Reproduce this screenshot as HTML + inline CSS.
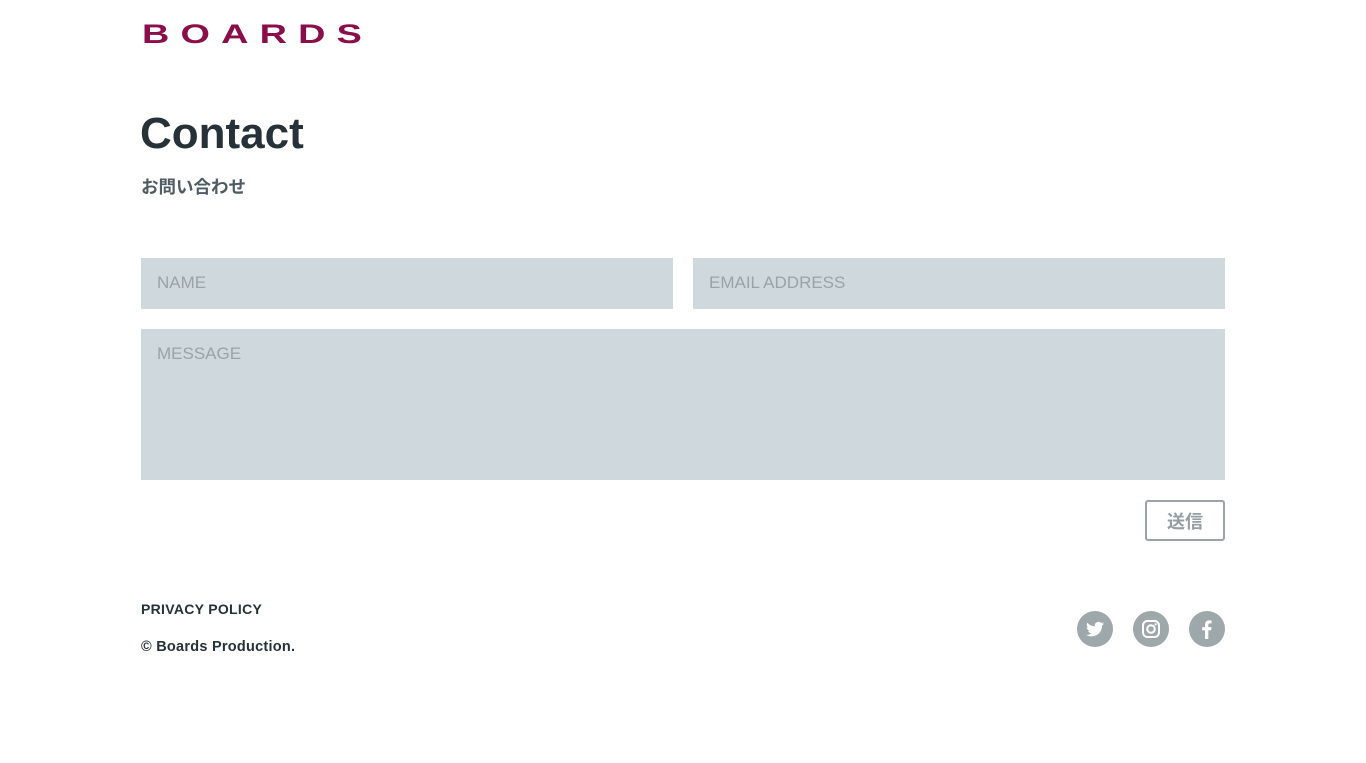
<!DOCTYPE html>
<html><head><meta charset="utf-8"><style>
body{margin:0;width:1366px;height:763px;background:#fff;position:relative;overflow:hidden;font-family:"Liberation Sans","Noto Sans CJK JP",sans-serif}
.a{position:absolute}
.f{background:#cfd8dc;position:absolute}
.ph{position:absolute;left:16px;color:#9aa3a7;font-size:17px}
.ic{position:absolute;top:611px;width:36px;height:36px;border-radius:50%;background:#9ea7aa}
</style></head><body>
<div class="a" style="left:142px;top:14px;font-size:27px;font-weight:bold;color:#8a0e4a;letter-spacing:8px;line-height:40px;transform:scaleX(1.4);transform-origin:0 0;white-space:nowrap">BOARDS</div>
<div class="a" style="left:140px;top:109px;font-size:44px;font-weight:bold;color:#263238;line-height:50px">Contact</div>
<div class="a" style="left:141px;top:175px;font-size:17.5px;font-weight:bold;color:#4f5b62;line-height:24px">お問い合わせ</div>
<div class="f" style="left:141px;top:258px;width:532px;height:51px"><span class="ph" style="top:15px">NAME</span></div>
<div class="f" style="left:693px;top:258px;width:532px;height:51px"><span class="ph" style="top:15px">EMAIL ADDRESS</span></div>
<div class="f" style="left:141px;top:329px;width:1084px;height:151px"><span class="ph" style="top:15px">MESSAGE</span></div>
<div class="a" style="left:1145px;top:500px;width:76px;height:37px;border:2px solid #9aa5a8;border-radius:3px;color:#959fa3;font-size:18px;font-weight:bold;text-align:center;line-height:40px">送信</div>
<div class="a" style="left:141px;top:601px;font-size:14px;font-weight:bold;color:#263238;letter-spacing:0.3px">PRIVACY POLICY</div>
<div class="a" style="left:141px;top:639px;font-size:14.5px;font-weight:bold;color:#263238;letter-spacing:0.25px">© Boards Production.</div>
<div class="ic" style="left:1077px"><svg width="36" height="36" viewBox="0 0 36 36"><path d="M27 12.5c-.7.3-1.4.5-2.1.6.8-.5 1.3-1.2 1.6-2-.7.4-1.5.7-2.3.9a3.7 3.7 0 0 0-6.3 3.4c-3.1-.2-5.8-1.6-7.6-3.8-1 1.7-.5 3.8 1.1 4.9-.6 0-1.2-.2-1.7-.5 0 1.8 1.3 3.300 3 3.700-.5.2-1.100.2-1.700.1.5 1.500 1.900 2.500 3.500 2.600A7.400 7.400 0 0 1 9 23.800 10.500 10.500 0 0 0 25.100 14.500c.8-.5 1.400-1.200 1.900-2z" fill="#fff"/></svg></div>
<div class="ic" style="left:1133px"><svg width="36" height="36" viewBox="0 0 36 36"><rect x="10" y="10" width="16" height="16" rx="4.5" fill="none" stroke="#fff" stroke-width="2"/><circle cx="18" cy="18" r="3.8" fill="none" stroke="#fff" stroke-width="2"/><circle cx="22.6" cy="13.4" r="1.1" fill="#fff"/></svg></div>
<div class="ic" style="left:1189px"><svg width="36" height="36" viewBox="0 0 36 36"><path d="M19.3 28v-8.6h2.8l.4-3.3h-3.2V14c0-.9.3-1.600 1.600-1.600h1.700V9.500c-.3 0-1.300-.1-2.500-.1-2.500 0-4.100 1.500-4.100 4.200v2.500h-2.800v3.300h2.800V28z" fill="#fff"/></svg></div>
</body></html>
